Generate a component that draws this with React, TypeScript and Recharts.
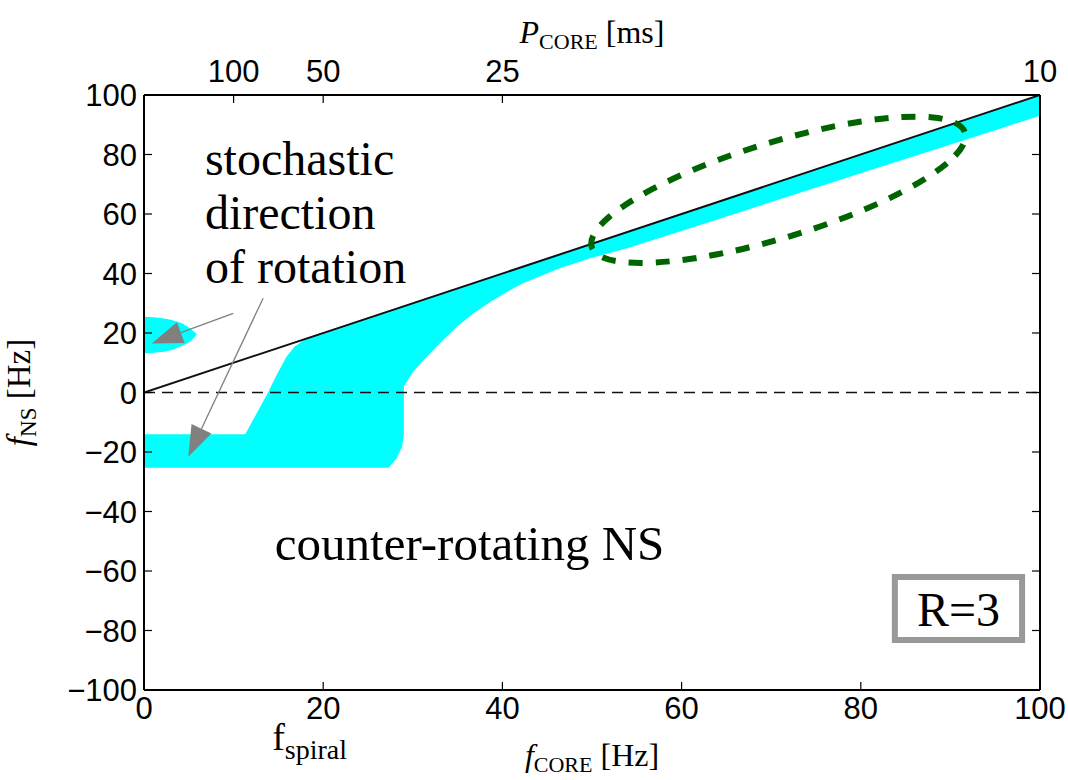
import React from 'react';
import {
  ComposedChart,
  Area,
  Line,
  XAxis,
  YAxis,
  ReferenceLine,
  ReferenceDot,
  ReferenceArea,
  Label,
} from 'recharts';

// cyan region: f_CORE [Hz] with lower / upper f_NS [Hz]
const bandX = [0, 11.3, 13.9, 14.8, 15.9, 16.8, 17.8, 18.7, 27.3, 28.2, 28.8, 29.0, 29.0, 30.0, 31.2, 33.0, 34.9, 36.8, 38.6, 40.5, 42.3, 46.1, 49.8, 54.2, 60, 70, 80, 94.4, 100];
const bandLow = [-25.3, -25.3, -25.3, -25.3, -25.3, -25.3, -25.3, -25.3, -25.3, -22.1, -18.2, -14.3, 2.0, 6.8, 10.9, 16.5, 22.1, 26.6, 30.3, 33.8, 36.7, 41.4, 45.1, 48.7, 54.3, 64.0, 73.7, 87.6, 93.0];
const bandHigh = [-14.0, -14.0, 0.3, 5.9, 12.0, 15.4, 17.6, 18.7, 27.3, 28.2, 28.8, 29.0, 29.0, 30.0, 31.2, 33.0, 34.9, 36.8, 38.6, 40.5, 42.3, 46.1, 49.8, 54.2, 60, 70, 80, 94.4, 100];

// small co-rotating blob near f_CORE = 0
const blobX = [0, 2.2, 4.0, 5.3, 5.9];
const blobLow = [13.2, 13.7, 15.4, 17.6, 19.6];
const blobHigh = [25.5, 24.9, 23.5, 21.2, 19.6];

// f_NS = f_CORE line
const diagX = [0, 100];
const diagY = [0, 100];

// dashed green ellipse (closed curve through these points)
const ellipseX = [92.6, 90.5, 83.1, 72.4, 61.3, 52.7, 49.0, 51.1, 58.5, 69.2, 80.3, 88.9];
const ellipseY = [88.2, 77.5, 64.2, 52.0, 44.2, 42.7, 48.0, 58.8, 72.0, 84.2, 92.1, 93.6];

const xTicks = [0, 20, 40, 60, 80, 100];
const yTicks = [-100, -80, -60, -40, -20, 0, 20, 40, 60, 80, 100];
const topTicks = [10, 20, 40, 100];
const topTickLabels = ['100', '50', '25', '10'];

const bandData = bandX.map((x, i) => ({ x, range: [bandLow[i], bandHigh[i]] }));
const blobData = blobX.map((x, i) => ({ x, range: [blobLow[i], blobHigh[i]] }));
const diagData = diagX.map((x, i) => ({ x, y: diagY[i] }));
const ellipseData = ellipseX.map((x, i) => ({ x, y: ellipseY[i] }));

const SANS = '"Liberation Sans", Arial, sans-serif';
const SERIF = '"Liberation Serif", "Times New Roman", serif';
const tickStyle = { fill: '#000', fontSize: 31, fontFamily: SANS };

const fmtY = (v: number) => (v < 0 ? '\u2212' + Math.abs(v) : String(v));
const fmtTop = (v: number) => topTickLabels[topTicks.indexOf(v)] ?? '';

const Arrow = (p: any) => {
  const { x1, y1, x2, y2 } = p;
  const dx = x2 - x1;
  const dy = y2 - y1;
  const len = Math.hypot(dx, dy) || 1;
  const ux = dx / len;
  const uy = dy / len;
  const hl = 31;
  const hw = 11;
  const bx = x2 - ux * hl;
  const by = y2 - uy * hl;
  const pts = `${x2},${y2} ${bx - uy * hw},${by + ux * hw} ${bx + uy * hw},${by - ux * hw}`;
  return (
    <g>
      <line x1={x1} y1={y1} x2={bx} y2={by} stroke="#808080" strokeWidth={1.3} />
      <polygon points={pts} fill="#808080" />
    </g>
  );
};

const textAt = (lines: string[], size: number, lineGap: number) => (p: any) => (
  <text x={p.cx} y={p.cy} fontFamily={SERIF} fontSize={size} fill="#000">
    {lines.map((t, i) => (
      <tspan key={i} x={p.cx} dy={i === 0 ? 0 : lineGap}>
        {t}
      </tspan>
    ))}
  </text>
);

const BottomLabel = ({ viewBox }: any) => {
  const { x, y, width } = viewBox;
  return (
    <g fontFamily={SERIF} fill="#000">
      <text x={x + width / 2} y={y + 76} textAnchor="middle" fontSize={32}>
        <tspan fontStyle="italic">f</tspan>
        <tspan fontSize={22} dy={6}>CORE</tspan>
        <tspan dy={-6}> [Hz]</tspan>
      </text>
      <text x={x + width * 0.143} y={y + 60} fontSize={38}>
        f<tspan fontSize={28} dy={9}>spiral</tspan>
      </text>
    </g>
  );
};

const TopLabel = ({ viewBox }: any) => {
  const { x, y, width } = viewBox;
  return (
    <text x={x + width / 2} y={y - 12} textAnchor="middle" fontSize={32} fontFamily={SERIF} fill="#000">
      <tspan fontStyle="italic">P</tspan>
      <tspan fontSize={22} dy={6}>CORE</tspan>
      <tspan dy={-6}> [ms]</tspan>
    </text>
  );
};

const LeftLabel = ({ viewBox }: any) => {
  const { x, y, height } = viewBox;
  const cx = x - 44;
  const cy = y + height / 2;
  return (
    <text
      x={cx}
      y={cy}
      transform={`rotate(-90, ${cx}, ${cy})`}
      textAnchor="middle"
      fontSize={33}
      fontFamily={SERIF}
      fill="#000"
    >
      <tspan fontStyle="italic">f</tspan>
      <tspan fontSize={23} dy={6}>NS</tspan>
      <tspan dy={-6}> [Hz]</tspan>
    </text>
  );
};

export default function App() {
  return (
    <div style={{ position: 'absolute', left: 0, top: 0, background: '#fff' }}>
      <ComposedChart width={1068} height={780} margin={{ top: 55, right: 18, bottom: 50, left: 74 }}>
        <XAxis
          xAxisId="bottom"
          dataKey="x"
          type="number"
          domain={[0, 100]}
          ticks={xTicks}
          allowDataOverflow
          height={40}
          axisLine={{ stroke: '#000', strokeWidth: 2 }}
          tickLine={{ stroke: '#000', strokeWidth: 1.2 }}
          tickSize={-8}
          tickMargin={15}
          tick={tickStyle}
        >
          <Label content={BottomLabel} />
        </XAxis>
        <XAxis
          xAxisId="top"
          dataKey="x"
          orientation="top"
          type="number"
          domain={[0, 100]}
          ticks={topTicks}
          tickFormatter={fmtTop}
          allowDataOverflow
          height={40}
          axisLine={{ stroke: '#000', strokeWidth: 2 }}
          tickLine={{ stroke: '#000', strokeWidth: 1.2 }}
          tickSize={-8}
          tickMargin={21}
          tick={tickStyle}
        >
          <Label content={TopLabel} />
        </XAxis>
        <YAxis
          yAxisId="left"
          type="number"
          domain={[-100, 100]}
          ticks={yTicks}
          tickFormatter={fmtY}
          allowDataOverflow
          width={70}
          axisLine={{ stroke: '#000', strokeWidth: 2 }}
          tickLine={{ stroke: '#000', strokeWidth: 1.2 }}
          tickSize={-8}
          tickMargin={15}
          tick={tickStyle}
        >
          <Label content={LeftLabel} />
        </YAxis>
        <YAxis
          yAxisId="right"
          orientation="right"
          type="number"
          domain={[-100, 100]}
          ticks={yTicks}
          tickFormatter={() => ''}
          allowDataOverflow
          width={10}
          axisLine={{ stroke: '#000', strokeWidth: 2 }}
          tickLine={{ stroke: '#000', strokeWidth: 1.2 }}
          tickSize={-8}
          tick={tickStyle}
        />

        <Area
          xAxisId="bottom"
          yAxisId="left"
          data={bandData}
          dataKey="range"
          type="linear"
          stroke="none"
          fill="#00ffff"
          fillOpacity={1}
          isAnimationActive={false}
        />
        <Area
          xAxisId="bottom"
          yAxisId="left"
          data={blobData}
          dataKey="range"
          type="monotone"
          stroke="none"
          fill="#00ffff"
          fillOpacity={1}
          isAnimationActive={false}
        />
        <ReferenceLine
          xAxisId="bottom"
          yAxisId="left"
          y={0}
          stroke="#111"
          strokeWidth={1.6}
          strokeDasharray="11 7"
        />
        <Line
          xAxisId="top"
          yAxisId="right"
          data={diagData}
          dataKey="y"
          type="linear"
          stroke="#111"
          strokeWidth={2}
          dot={false}
          isAnimationActive={false}
        />
        <Line
          xAxisId="bottom"
          yAxisId="left"
          data={ellipseData}
          dataKey="y"
          type="basisClosed"
          stroke="#006400"
          strokeWidth={6}
          strokeDasharray="14 13"
          dot={false}
          isAnimationActive={false}
        />
        <ReferenceLine
          xAxisId="bottom"
          yAxisId="left"
          segment={[{ x: 9.96, y: 26.6 }, { x: 0.86, y: 16.5 }]}
          shape={Arrow}
        />
        <ReferenceLine
          xAxisId="bottom"
          yAxisId="left"
          segment={[{ x: 13.3, y: 31.7 }, { x: 4.94, y: -21.6 }]}
          shape={Arrow}
        />
        <ReferenceDot
          xAxisId="bottom"
          yAxisId="left"
          x={6.8}
          y={73.1}
          r={0}
          shape={textAt(['stochastic', 'direction', 'of rotation'], 48, 54)}
        />
        <ReferenceDot
          xAxisId="bottom"
          yAxisId="left"
          x={14.6}
          y={-56.3}
          r={0}
          shape={textAt(['counter-rotating NS'], 49, 0)}
        />
        <ReferenceArea
          xAxisId="bottom"
          yAxisId="left"
          x1={83.8}
          x2={98.0}
          y1={-83.2}
          y2={-62.0}
          fill="#fff"
          fillOpacity={1}
          stroke="#999"
          strokeWidth={6}
          label={{ value: 'R=3', position: 'center', fontSize: 48, fontFamily: SERIF, fill: '#000' }}
        />
      </ComposedChart>
    </div>
  );
}
